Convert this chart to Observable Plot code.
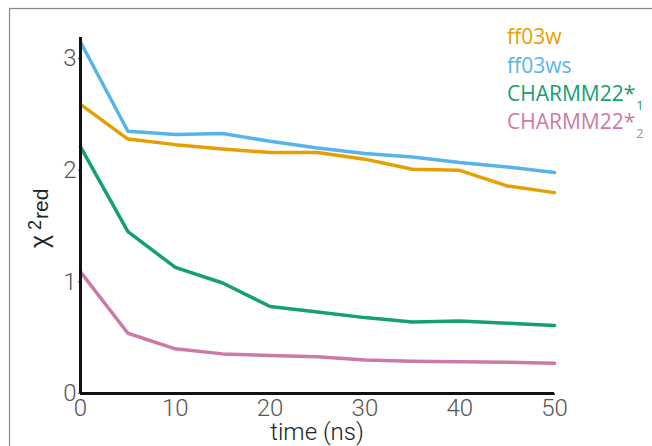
<!DOCTYPE html>
<html><head><meta charset="utf-8">
<script src="https://cdn.jsdelivr.net/npm/d3@7"></script>
<script src="https://cdn.jsdelivr.net/npm/@observablehq/plot@0.6"></script>
<style>body{margin:0;background:#fff;} #chart svg{display:block}</style>
</head><body><div id="chart"></div>
<script>
const times = [0, 5, 10, 15, 20, 25, 30, 35, 40, 45, 50];
const seriesKeys = ["ff03w", "ff03ws", "CHARMM22*_1", "CHARMM22*_2"];
const seriesLabels = ["ff03w", "ff03ws", "CHARMM22*", "CHARMM22*"];
const seriesSubs = ["", "", "1", "2"];
const seriesColors = ["#E69F00", "#56B4E9", "#15A06F", "#CC79A7"];
const ff03w  = [2.59, 2.28, 2.23, 2.19, 2.16, 2.16, 2.10, 2.01, 2.00, 1.86, 1.80];
const ff03ws = [3.15, 2.35, 2.32, 2.33, 2.26, 2.20, 2.15, 2.12, 2.07, 2.03, 1.98];
const charmm1 = [2.21, 1.45, 1.13, 0.99, 0.78, 0.73, 0.68, 0.64, 0.65, 0.63, 0.61];
const charmm2 = [1.09, 0.54, 0.40, 0.355, 0.34, 0.33, 0.30, 0.29, 0.285, 0.28, 0.27];
const xTicks = [0, 10, 20, 30, 40, 50];
const yTicks = [0, 1, 2, 3];
const xLabel = "time (ns)";

const valueLists = [ff03w, ff03ws, charmm1, charmm2];
const data = seriesKeys.flatMap((k, i) => times.map((t, j) => ({series: k, time: t, value: valueLists[i][j]})));

const W = 652, H = 446;
const plot = Plot.plot({
  width: W, height: H,
  marginLeft: 80, marginRight: 98, marginTop: 37, marginBottom: 53,
  style: {background: "transparent", color: "#555", fontFamily: "Roboto, 'Liberation Sans', sans-serif"},
  x: {domain: [0, 50]},
  y: {domain: [0, 3.19]},
  color: {domain: seriesKeys, range: seriesColors},
  marks: [
    Plot.axisX({ticks: xTicks, tickFormat: d3.format("d"), tickSize: 2, tickPadding: 3, fontSize: 24, fontWeight: 300, label: null, stroke: "#555"}),
    Plot.axisY({ticks: yTicks, tickFormat: d3.format("d"), tickSize: 2, tickPadding: 2, fontSize: 24, fontWeight: 300, label: null, stroke: "#555"}),
    Plot.line(data, {x: "time", y: "value", z: "series", stroke: "series", strokeWidth: 3.5, strokeLinejoin: "round"}),
    Plot.ruleX([0], {stroke: "#111", strokeWidth: 3}),
    Plot.ruleY([0], {stroke: "#111", strokeWidth: 3})
  ]
});
document.getElementById("chart").append(plot);

const svg = d3.select(plot);
// frame border
svg.insert("rect", ":first-child")
  .attr("x", 9.5).attr("y", 8.5).attr("width", 700).attr("height", 500)
  .attr("fill", "none").attr("stroke", "#888").attr("stroke-width", 1.2);

// x label
svg.append("text").attr("x", 317).attr("y", 440).attr("text-anchor", "middle")
  .attr("font-family", "Roboto, 'Liberation Sans', sans-serif").attr("font-size", 24).attr("font-weight", 300).attr("fill", "#222")
  .text(xLabel);

// y label chi^2 red
const yl = svg.append("g").attr("transform", "translate(48,248) rotate(-90)")
  .attr("font-family", "'Liberation Sans', sans-serif").attr("fill", "#222").attr("text-anchor", "start");
yl.append("text").attr("x", 0).attr("y", 0).attr("font-size", 25).text("χ");
yl.append("text").attr("x", 18).attr("y", -7).attr("font-size", 18).text("2");
yl.append("text").attr("x", 29).attr("y", 0).attr("font-size", 21).text("red");

// legend
const legendY = [43.5, 72.5, 101, 128.5];
const lg = svg.append("g").attr("font-family", "'Open Sans', sans-serif").attr("text-anchor", "start");
seriesKeys.forEach((k, i) => {
  const t = lg.append("text").attr("x", 507).attr("y", legendY[i]).attr("font-size", 21).attr("fill", seriesColors[i]);
  t.append("tspan").text(seriesLabels[i]);
  if (seriesSubs[i]) t.append("tspan").attr("dx", 1).attr("dy", 9).attr("font-size", 13).text(seriesSubs[i]);
});
</script>
</body></html>
